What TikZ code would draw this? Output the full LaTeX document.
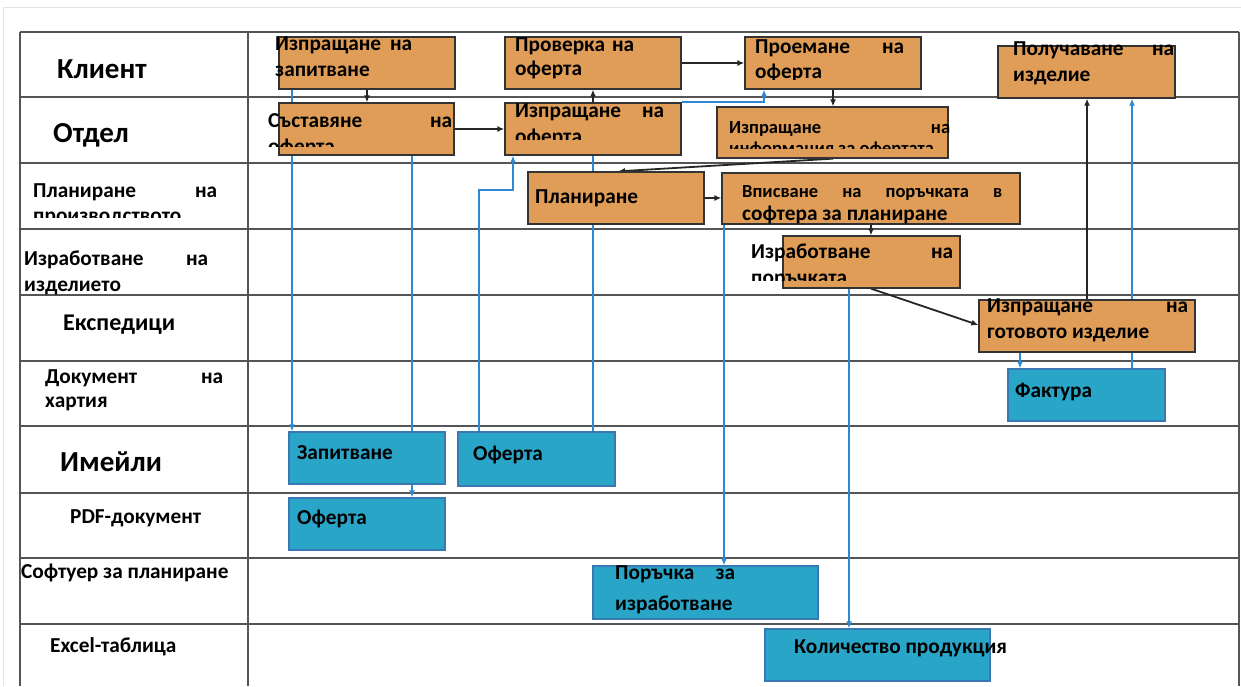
\documentclass[tikz,border=0pt]{standalone}
\usepackage{fontspec}
\setmainfont{Carlito}
\usetikzlibrary{arrows.meta}
\pgfdeclarelayer{bg}
\pgfsetlayers{bg,main}
\definecolor{boxor}{HTML}{E09D57}
\definecolor{boxbl}{HTML}{29A5C8}
\definecolor{edgebl}{HTML}{3A78B5}
\definecolor{flowbl}{HTML}{2F88D4}
\definecolor{gridc}{HTML}{555555}
% two words pushed to both ends of a line of given width
\newcommand{\spreadline}[3]{\hbox to #1pt{#2\hfill #3}}
\begin{document}
\begin{tikzpicture}[x=1pt,y=-1pt,
  task/.style={draw=black!80, line width=1.3pt, fill=boxor, inner sep=0pt},
  doc/.style={draw=edgebl, line width=1.3pt, fill=boxbl, inner sep=0pt},
  size/.style 2 args={minimum width=#1pt, minimum height=#2pt},
  txt/.style={anchor=base west, inner sep=0pt, font=\bfseries\fontsize{21.3}{26}\selectfont},
  small/.style={anchor=base west, inner sep=0pt, font=\bfseries\fontsize{18.5}{22}\selectfont},
  big/.style={anchor=base west, inner sep=0pt, font=\bfseries\fontsize{29}{34}\selectfont},
  mid/.style={anchor=base west, inner sep=0pt, font=\bfseries\fontsize{24}{29}\selectfont},
  blk/.style={draw=black!85, line width=1.8pt, -{Latex[length=7pt,width=6pt]}},
  blu/.style={draw=flowbl, line width=1.8pt},
  bluarr/.style={blu, -{Latex[length=7pt,width=6pt]}},
  rule/.style={draw=gridc, line width=1.8pt}]
\useasboundingbox (0,0) rectangle (1241,686);

% process steps
\node[task, size={176}{52}] (zap1)   at (367,63)      {};
\node[task, size={175}{52}] (sast)   at (366.5,129)   {};
\node[task, size={176}{52}] (prov)   at (593,63)      {};
\node[task, size={176}{52}] (izpof)  at (593,129)     {};
\node[task, size={176}{52}] (proem)  at (833,63)      {};
\node[task, size={177}{52}] (poluch) at (1086.5,72)   {};
\node[task, size={231}{51}] (info)   at (832.5,132.5) {};
\node[task, size={176}{52}] (plan)   at (616,198)     {};
\node[task, size={298}{51}] (vpis)   at (871,198.5)   {};
\node[task, size={177}{52}] (izrab)  at (871.5,262)   {};
\node[task, size={216}{52}] (gotovo) at (1087,326)    {};

% documents
\node[doc, size={156}{52}] (emzap)  at (367,458)     {};
\node[doc, size={157}{54}] (emof)   at (536.5,459)   {};
\node[doc, size={156}{52}] (pdfof)  at (367,524)     {};
\node[doc, size={225}{53}] (poruch) at (705.5,592.5) {};
\node[doc, size={225}{52}] (kol)    at (877.5,655)   {};
\node[doc, size={157}{52}] (fakt)   at (1086.5,395)  {};

\begin{pgfonlayer}{bg}
  % page frame
  \draw[black!10, line width=1pt] (3,686) -- (3,7) -- (1241,7);
  % lanes
  \foreach \yy in {32,97,163,229,295,361,426,493,558,624}
    \draw[rule] (20,\yy) -- (1239,\yy);
  \foreach \xx in {20,248,1239}
    \draw[rule] (\xx,32) -- (\xx,686);

  % data flows
  \draw[bluarr] (zap1.south -| 292,0) -- (emzap.north -| 292,0);
  \draw[bluarr] (sast.south -| 412,0) -- (pdfof.north -| 412,0);
  \draw[bluarr] (emof.north -| 479,0) -- (479,190) -| (izpof.south -| 513,0);
  \draw[blu] (izpof.south -| 593,0) -- (emof.north -| 593,0);
  \draw[bluarr] (izpof.north east) -| (proem.south -| 764,0);
  \draw[bluarr] (vpis.south -| 724,0) -- (poruch.north -| 724,0);
  \draw[bluarr] (izrab.south -| 849,0) -- (kol.north -| 849,0);
  \draw[bluarr] (gotovo.south -| 1020,0) -- (fakt.north -| 1020,0);
  \draw[bluarr] (fakt.north -| 1132,0) -- (poluch.south -| 1132,0);

  % control flow
  \draw[blk] (zap1.south -| 367,0) -- (sast.north -| 367,0);
  \draw[blk] (sast.east |- 0,129) -- (izpof.west |- 0,129);
  \draw[blk] (izpof.north -| 593,0) -- (prov.south -| 593,0);
  \draw[blk] (prov.east |- 0,63) -- (proem.west |- 0,63);
  \draw[blk] (proem.south -| 833,0) -- (info.north -| 833,0);
  \draw[blk] (info.south -| 833,0) -- (plan.north -| 618,0);
  \draw[blk] (plan.east |- 0,198) -- (vpis.west |- 0,198);
  \draw[blk] (vpis.south -| 871,0) -- (izrab.north -| 871,0);
  \draw[blk] (izrab.south -| 871,0) -- (gotovo.west |- 0,325);
  \draw[blk] (gotovo.north -| 1087,0) -- (poluch.south -| 1087,0);
\end{pgfonlayer}

% lane titles
\node[big] (lk) at (57,78) {Клиент};
\node[big] (lo) at (53,142) {Отдел};
\node[txt] (lp) at (33,197) {\spreadline{184}{Планиране}{на}};
\begin{scope}
  \clip (21,200) rectangle (247,217);
  \node[txt] (lp2) at (33,222) {производството};
\end{scope}
\node[txt] (li) at (24,265) {\spreadline{184}{Изработване}{на}};
\node[txt] (li2) at (24,291) {изделието};
\node[mid] (le) at (63,330) {Експедици};
\node[txt] (ld) at (45,383) {\spreadline{178}{Документ}{на}};
\node[txt] (ld2) at (45,407) {хартия};
\node[big] (lm) at (60,471) {Имейли};
\node[txt] (lpdf) at (70,523) {PDF-документ};
\node[txt] (ls) at (21,578) {Софтуер за планиране};
\node[txt] (lx) at (50,652) {Excel-таблица};

% step texts
\node[txt] at (275,50) {\spreadline{137}{Изпращане}{на}};
\node[txt] at (275,76) {запитване};
\node[txt] at (268,127) {\spreadline{184}{Съставяне}{на}};
\begin{scope}
  \clip (260,131) rectangle (470,146);
  \node[txt] at (268,153) {оферта};
\end{scope}
\node[txt] at (515,51) {\spreadline{119}{Проверка}{на}};
\begin{scope}
  \clip (510,55) rectangle (680,78);
  \node[txt] at (515,75) {оферта};
\end{scope}
\node[txt] at (515,117) {\spreadline{149}{Изпращане}{на}};
\begin{scope}
  \clip (510,121) rectangle (680,139);
  \node[txt] at (515,143) {оферта};
\end{scope}
\node[txt] at (755,53) {\spreadline{149}{Проемане}{на}};
\begin{scope}
  \clip (750,57) rectangle (920,79);
  \node[txt] at (755,78) {оферта};
\end{scope}
\node[txt] at (1013,55) {\spreadline{161}{Получаване}{на}};
\node[txt] at (1013,81) {изделие};
\node[small] at (729,133) {\spreadline{221}{Изпращане}{на}};
\begin{scope}
  \clip (720,137) rectangle (947,148);
  \node[small] at (729,154) {информация за офертата};
\end{scope}
\node[txt] at (535,203) {Планиране};
\node[small] at (742,197) {\makebox[260pt][s]{Вписване на поръчката в}};
\node[txt] at (742,220) {софтера за планиране};
\node[txt] at (751,258) {\spreadline{202}{Изработване}{на}};
\begin{scope}
  \clip (745,262) rectangle (958,280);
  \node[txt] at (751,284) {поръчката};
\end{scope}
\node[txt] at (987,312) {\spreadline{201}{Изпращане}{на}};
\node[txt] at (987,338) {готовото изделие};

% document texts
\node[txt] at (297,459) {Запитване};
\node[txt] at (473,460) {Оферта};
\node[txt] at (297,524) {Оферта};
\node[txt] at (615,579) {\spreadline{120}{Поръчка}{за}};
\node[txt] at (615,610) {изработване};
\node[txt] at (794,653) {Количество продукция};
\node[txt] at (1015,397) {Фактура};
\end{tikzpicture}
\end{document}
